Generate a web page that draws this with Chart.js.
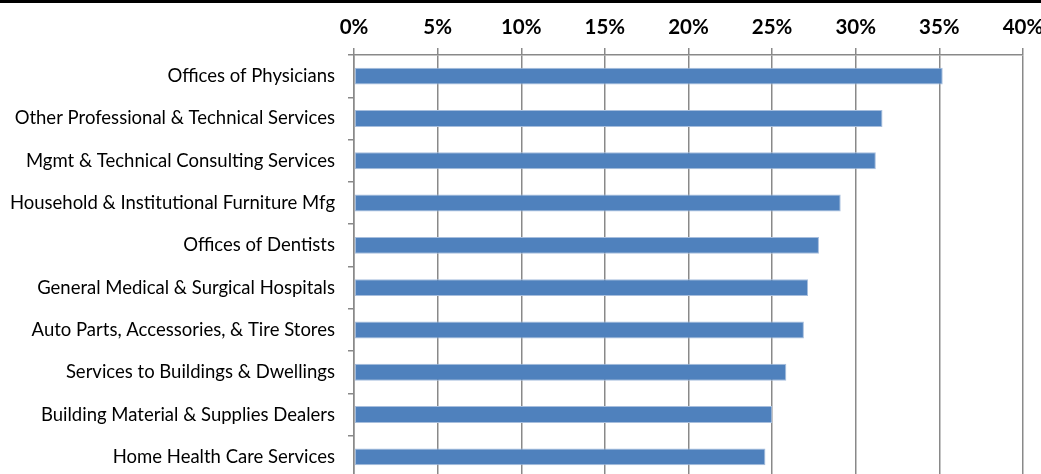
<!DOCTYPE html>
<html>
<head>
<meta charset="utf-8">
<script src="https://cdn.jsdelivr.net/npm/chart.js@4"></script>
<style>
    html, body { margin: 0; padding: 0; background: #fff; overflow: hidden; }
    canvas { display: block; }
</style>
</head>
<body>
<canvas id="industryChart" width="1060" height="478"></canvas>
<script>
// Data kategori industri dan persentase
const industries = [
    'Offices of Physicians',
    'Other Professional & Technical Services',
    'Mgmt & Technical Consulting Services',
    'Household & Institutional Furniture Mfg',
    'Offices of Dentists',
    'General Medical & Surgical Hospitals',
    'Auto Parts, Accessories, & Tire Stores',
    'Services to Buildings & Dwellings',
    'Building Material & Supplies Dealers',
    'Home Health Care Services'
];
const shares = [35.2, 31.6, 31.2, 29.1, 27.8, 27.15, 26.9, 25.85, 25.0, 24.6];
const xTicks = [0, 5, 10, 15, 20, 25, 30, 35, 40];

// Garis hitam tebal di bagian atas gambar
const topBand = {
    id: 'topBand',
    beforeDraw(chart) {
        const ctx = chart.ctx;
        ctx.save();
        ctx.fillStyle = '#000';
        ctx.fillRect(0, 0, chart.width, 3);
        ctx.restore();
    }
};

const ctx = document.getElementById('industryChart').getContext('2d');
const industryChart = new Chart(ctx, {
    type: 'bar',
    data: {
        labels: industries,
        datasets: [{
            data: shares,
            backgroundColor: '#4F81BD',
            borderColor: '#A7BEDD',
            borderWidth: 1,
            borderSkipped: false,
            barPercentage: 0.4,
            categoryPercentage: 1.0
        }]
    },
    options: {
        responsive: false,
        animation: false,
        indexAxis: 'y',
        layout: { padding: { left: 0, right: 37, top: 0, bottom: 0 } },
        plugins: {
            legend: { display: false },
            tooltip: { enabled: false }
        },
        scales: {
            x: {
                position: 'top',
                min: 0,
                max: 40,
                afterBuildTicks: function (scale) {
                    scale.ticks = xTicks.map(v => ({ value: v }));
                },
                afterFit: function (scale) { scale.height = 55; },
                grid: {
                    color: '#898989',
                    lineWidth: 1.5,
                    tickLength: 7,
                    drawTicks: true
                },
                border: { color: '#898989', width: 1.5 },
                ticks: {
                    padding: 8,
                    color: '#000',
                    font: { family: 'Lato', size: 20.5, weight: 'bold' },
                    callback: function (value) { return value + '%'; }
                }
            },
            y: {
                afterFit: function (scale) {
                    scale.width = 354;
                    scale.paddingTop = 0;
                    scale.paddingBottom = 0;
                },
                grid: {
                    offset: true,
                    drawOnChartArea: false,
                    color: '#898989',
                    lineWidth: 1.5,
                    tickLength: 6
                },
                border: { color: '#898989', width: 1.5 },
                ticks: {
                    padding: 13,
                    color: '#000',
                    font: { family: 'Lato', size: 18.5 }
                }
            }
        }
    },
    plugins: [topBand]
});
</script>
</body>
</html>
